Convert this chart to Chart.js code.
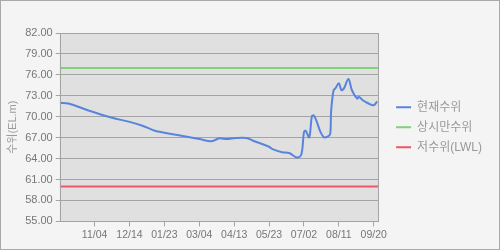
<!DOCTYPE html>
<html>
<head>
<meta charset="utf-8">
<script src="https://cdn.jsdelivr.net/npm/chart.js@4.4.1/dist/chart.umd.min.js"></script>
<style>
  html, body { margin: 0; padding: 0; background: #fff; }
  #wrap {
    width: 500px; height: 250px; box-sizing: border-box;
    border: 1px solid #a9a9a9; background: #f4f4f4;
  }
  canvas { display: block; }
</style>
</head>
<body>
<div id="wrap"><canvas id="levelChart" width="498" height="248"></canvas></div>
<script>
// 일자 (09/25 기준 경과일) 와 수위 값
const days = [0, 10, 33, 60, 79, 94, 109, 120, 138, 160, 174, 183, 191, 202, 214, 221,
  240, 244, 255, 263, 272, 277, 280, 282, 286, 289, 291, 294, 299, 303, 307, 310,
  311, 312, 314, 316, 320, 323, 326, 331, 335, 341, 343, 347, 354, 360, 364];
const levels = [72.0, 71.9, 70.9, 69.85, 69.3, 68.75, 68.0, 67.7, 67.3, 66.8, 66.5, 66.9, 66.8, 66.95, 66.95, 66.6,
  65.7, 65.35, 64.9, 64.8, 64.15, 64.6, 67.8, 68.0, 67.05, 70.0, 70.2, 69.5, 67.8, 67.05, 67.15, 67.5,
  70.5, 72.0, 73.8, 74.05, 74.8, 73.8, 74.1, 75.4, 73.8, 72.6, 72.85, 72.4, 71.9, 71.65, 72.2];
const normalLevel = 77.0;   // 상시만수위
const lowLevel = 60.0;      // 저수위(LWL)

const tickDays = [40, 80, 120, 160, 200, 240, 280, 320, 360];
const tickLabels = ['11/04', '12/14', '01/23', '03/04', '04/13', '05/23', '07/02', '08/11', '09/20'];

const seriesNames = ['현재수위', '상시만수위', '저수위(LWL)'];
const seriesColors = ['#5884dc', '#7ed277', '#f0566a'];

const currentData = days.map((d, i) => ({ x: d, y: levels[i] }));
const normalData = [{ x: 0, y: normalLevel }, { x: 365, y: normalLevel }];
const lowData = [{ x: 0, y: lowLevel }, { x: 365, y: lowLevel }];

// 플롯 영역 배경 + 테두리, 범례 위치 조정
const plotBg = {
  id: 'plotBg',
  afterLayout(chart) {
    const lg = chart.legend, a = chart.chartArea;
    const w = lg.width;
    lg.left = a.right + 10;
    lg.right = lg.left + w;
    lg.top = a.top;
    lg.bottom = a.bottom;
    lg.height = a.bottom - a.top;
  },
  beforeDraw(chart) {
    const { ctx, chartArea: a } = chart;
    ctx.save();
    ctx.fillStyle = '#e0e0e0';
    ctx.fillRect(a.left, a.top, a.right - a.left, a.bottom - a.top);
    ctx.restore();
  },
  afterDraw(chart) {
    const { ctx, chartArea: a } = chart;
    ctx.save();
    ctx.strokeStyle = '#a4a4a4';
    ctx.lineWidth = 1;
    ctx.strokeRect(Math.round(a.left) + 0.5, Math.round(a.top) + 0.5,
      Math.round(a.right - a.left), Math.round(a.bottom - a.top));
    ctx.restore();
  }
};

const ds = (data, i, tension) => ({
  label: seriesNames[i],
  data: data,
  borderColor: seriesColors[i],
  backgroundColor: seriesColors[i],
  borderWidth: 2,
  pointRadius: 0,
  tension: tension,
  fill: false
});

new Chart(document.getElementById('levelChart').getContext('2d'), {
  type: 'line',
  data: {
    datasets: [ds(currentData, 0, 0.35), ds(normalData, 1, 0), ds(lowData, 2, 0)]
  },
  options: {
    responsive: false,
    animation: false,
    layout: { padding: { top: 32, right: 17, bottom: 6, left: 2 } },
    plugins: {
      tooltip: { enabled: false },
      legend: {
        position: 'right',
        align: 'center',
        labels: {
          usePointStyle: true,
          pointStyle: 'line',
          pointStyleWidth: 15,
          boxHeight: 11,
          padding: 8,
          color: '#999',
          font: { family: '"Liberation Sans", "Noto Sans CJK KR", sans-serif', size: 12 }
        }
      }
    },
    scales: {
      x: {
        type: 'linear',
        min: 0,
        max: 365,
        afterBuildTicks(axis) {
          axis.ticks = tickDays.map(v => ({ value: v }));
        },
        ticks: {
          autoSkip: false,
          maxRotation: 0,
          padding: 2,
          color: '#777',
          font: { family: '"Liberation Sans", Arial, sans-serif', size: 10.5 },
          callback: (v, i) => tickLabels[i]
        },
        grid: { drawOnChartArea: false, drawTicks: true, tickLength: 5, color: '#a4a4a4' },
        border: { display: false }
      },
      y: {
        min: 55,
        max: 82,
        afterBuildTicks(axis) {
          const t = [];
          for (let v = 55; v <= 82; v += 3) t.push({ value: v });
          axis.ticks = t;
        },
        ticks: {
          padding: 3,
          color: '#777',
          font: { family: '"Liberation Sans", Arial, sans-serif', size: 11 },
          callback: v => v.toFixed(2)
        },
        grid: { color: '#a4a4a4', tickLength: 4 },
        border: { display: false },
        title: {
          display: true,
          text: '수위(EL.m)',
          color: '#9a9a9a',
          padding: 3,
          font: { family: '"Liberation Sans", "Noto Sans CJK KR", sans-serif', size: 11 }
        }
      }
    }
  },
  plugins: [plotBg]
});
</script>
</body>
</html>
